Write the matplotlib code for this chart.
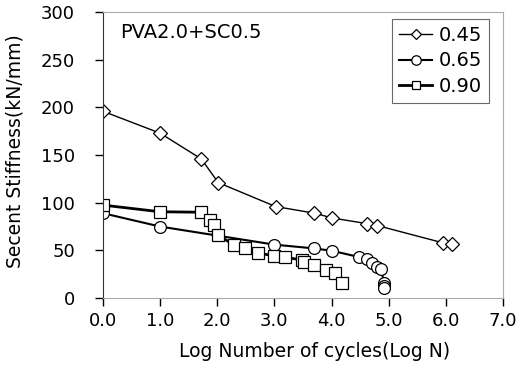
import matplotlib
matplotlib.use("Agg")
import matplotlib.pyplot as plt

# Log N vs secant stiffness for three w/b ratios
x045 = [0.0, 1.0, 1.72, 2.02, 3.02, 3.70, 4.01, 4.62, 4.80, 5.94, 6.10]
y045 = [196, 173, 146, 121, 96, 89, 84, 78, 76, 58, 57]

x065 = [0.0, 1.0, 3.0, 3.70, 4.01, 4.48, 4.61, 4.70, 4.79, 4.86, 4.92, 4.92, 4.92]
y065 = [89, 75, 56, 52, 49.5, 43, 40.5, 36.5, 33, 30, 16, 13, 11]

x090 = [0.0, 1.0, 1.72, 1.88, 1.94, 2.01, 2.30, 2.49, 2.71, 3.0, 3.18,
        3.48, 3.52, 3.70, 3.91, 4.06, 4.18]
y090 = [97.5, 90.5, 90, 82, 76.5, 66, 55.5, 52, 47.5, 44, 42.7,
        40, 38, 35, 29.5, 26.5, 16]

series_labels = ["0.45", "0.65", "0.90"]
x_ticks = [0, 1, 2, 3, 4, 5, 6, 7]
y_ticks = [0, 50, 100, 150, 200, 250, 300]

plt.rcParams['font.family'] = ['DejaVu Sans']
fig = plt.figure(figsize=(5.22, 3.67), dpi=100)
ax = fig.add_axes([0.197, 0.188, 0.767, 0.779])

ax.plot(x045, y045, color='black', lw=1.0, marker='D', ms=7,
        mfc='white', mec='black', mew=0.9, label=series_labels[0])
ax.plot(x065, y065, color='black', lw=1.5, marker='o', ms=8.5,
        mfc='white', mec='black', mew=0.9, label=series_labels[1])
ax.plot(x090, y090, color='black', lw=2.0, marker='s', ms=8,
        mfc='white', mec='black', mew=0.9, label=series_labels[2])

ax.set_xlim(0, 7)
ax.set_ylim(0, 300)
ax.set_xticks(x_ticks)
ax.set_xticklabels([f"{t:.1f}" for t in x_ticks])
ax.set_yticks(y_ticks)
ax.tick_params(direction='out', length=6, width=1, labelsize=13)
ax.tick_params(axis='y', pad=14)
ax.tick_params(axis='x', pad=4)

for side in ['top', 'right', 'bottom']:
    ax.spines[side].set_color('#aaaaaa')
ax.spines['left'].set_color('#333333')

ax.set_xlabel('Log Number of cycles(Log N)', fontsize=13.5)
ax.set_ylabel('Secent Stiffness(kN/mm)', fontsize=13.5)
ax.xaxis.set_label_coords(0.53, -0.155)
ax.yaxis.set_label_coords(-0.195, 0.515)

ax.text(0.042, 0.962, 'PVA2.0+SC0.5', transform=ax.transAxes,
        fontsize=14, va='top', ha='left')

leg = ax.legend(loc='upper right', bbox_to_anchor=(0.965, 0.9755),
                borderaxespad=0, handlelength=1.7, handletextpad=0.35,
                borderpad=0.35, labelspacing=0.33, fontsize=14,
                fancybox=False, markerscale=0.8)
leg.get_frame().set_edgecolor('#444444')
leg.get_frame().set_linewidth(0.8)

fig.savefig('out.png', dpi=100)
